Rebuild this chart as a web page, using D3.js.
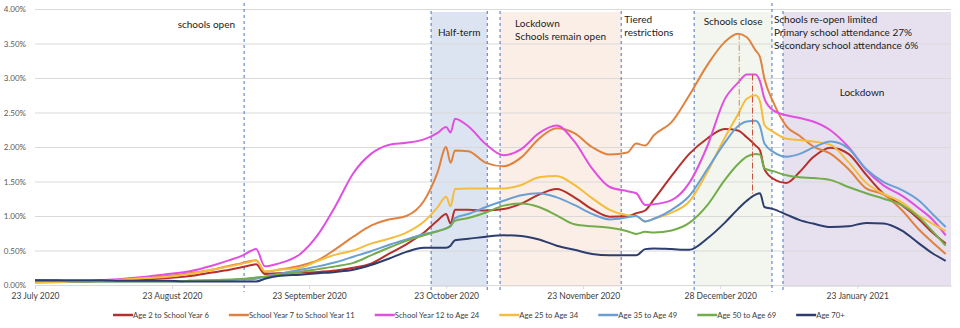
<!DOCTYPE html>
<html>
<head>
<meta charset="utf-8">
<script src="https://cdn.jsdelivr.net/npm/d3@7"></script>
<style>
  body { margin: 0; background: #fff; }
  #chart { width: 960px; height: 328px; }
</style>
</head>
<body>
<div id="chart"></div>
<script>
// Category positions (day index from 23 July 2020) where the values were read
const dayIdx = [0, 5, 10, 15, 20, 25, 30, 35, 40, 44,
  47, 49, 50, 52, 55, 60, 64, 68, 72, 76,
  80, 84, 88, 91, 93, 94, 95, 98, 102, 106,
  110, 114, 118, 122, 126, 130, 134, 136, 138, 140,
  144, 148, 152, 156, 159, 161, 163, 164, 165, 167,
  170, 173, 176, 180, 184, 188, 192, 196, 200, 203, 206];

const tickIdx = [0, 31, 62, 93, 124, 155, 186];
const tickLabels = ["23 July 2020", "23 August 2020", "23 September 2020", "23 October 2020",
  "23 November 2020", "28 December 2020", "23 January 2021"];

const seriesNames = ["Age 2 to School Year 6", "School Year 7 to School Year 11", "School Year 12 to Age 24",
  "Age 25 to Age 34", "Age 35 to Age 49", "Age 50 to Age 69", "Age 70+"];
const seriesColors = ["#b5302c", "#e0823f", "#e04fe0", "#f5bd3c", "#6a9fd6", "#72ad4a", "#2c3d6e"];

// Values in percent
const age2toY6 = [0.07, 0.06, 0.05, 0.06, 0.07, 0.08, 0.10, 0.13, 0.18, 0.22,
  0.26, 0.29, 0.30, 0.16, 0.17, 0.18, 0.19, 0.21, 0.25, 0.31,
  0.45, 0.59, 0.76, 0.93, 1.03, 0.89, 1.09, 1.09, 1.08, 1.10,
  1.18, 1.31, 1.39, 1.27, 1.10, 0.99, 1.00, 1.04, 1.08, 1.24,
  1.58, 1.90, 2.12, 2.26, 2.24, 2.14, 2.02, 1.95, 1.68, 1.54,
  1.48, 1.64, 1.85, 1.99, 1.90, 1.60, 1.32, 1.16, 0.95, 0.76, 0.60];
const year7to11 = [0.05, 0.05, 0.05, 0.06, 0.08, 0.10, 0.13, 0.17, 0.22, 0.28,
  0.32, 0.35, 0.36, 0.19, 0.22, 0.28, 0.36, 0.52, 0.70, 0.86,
  0.95, 1.00, 1.22, 1.62, 2.00, 1.77, 1.95, 1.94, 1.77, 1.72,
  1.85, 2.12, 2.27, 2.20, 2.00, 1.89, 1.92, 2.05, 2.02, 2.17,
  2.36, 2.75, 3.18, 3.52, 3.64, 3.59, 3.40, 3.30, 2.99, 2.65,
  2.30, 2.16, 2.01, 1.90, 1.68, 1.40, 1.31, 1.09, 0.80, 0.62, 0.45];
const year12to24 = [0.06, 0.06, 0.05, 0.07, 0.09, 0.12, 0.16, 0.20, 0.28, 0.36,
  0.43, 0.50, 0.52, 0.27, 0.31, 0.45, 0.73, 1.15, 1.62, 1.90,
  2.03, 2.06, 2.11, 2.20, 2.29, 2.21, 2.41, 2.30, 2.04, 1.88,
  1.97, 2.20, 2.31, 2.08, 1.69, 1.42, 1.36, 1.33, 1.16, 1.17,
  1.23, 1.48, 2.00, 2.69, 2.93, 3.05, 3.05, 2.95, 2.70, 2.53,
  2.46, 2.42, 2.37, 2.24, 2.00, 1.67, 1.44, 1.30, 1.11, 0.95, 0.72];
const age25to34 = [0.03, 0.04, 0.05, 0.06, 0.08, 0.10, 0.12, 0.16, 0.22, 0.27,
  0.31, 0.34, 0.36, 0.20, 0.22, 0.25, 0.35, 0.44, 0.50, 0.60,
  0.67, 0.76, 0.92, 1.12, 1.28, 1.14, 1.39, 1.40, 1.40, 1.40,
  1.45, 1.56, 1.58, 1.45, 1.26, 1.09, 1.01, 1.00, 0.92, 0.96,
  1.05, 1.21, 1.63, 2.13, 2.47, 2.70, 2.75, 2.66, 2.32, 2.22,
  2.12, 2.10, 2.08, 2.03, 1.78, 1.48, 1.32, 1.20, 1.00, 0.89, 0.78];
const age35to49 = [0.06, 0.06, 0.05, 0.05, 0.05, 0.05, 0.05, 0.06, 0.07, 0.07,
  0.08, 0.08, 0.09, 0.12, 0.16, 0.22, 0.27, 0.33, 0.41, 0.49,
  0.58, 0.66, 0.74, 0.78, 0.82, 0.85, 0.97, 1.03, 1.13, 1.22,
  1.30, 1.33, 1.27, 1.16, 1.03, 0.95, 0.98, 1.00, 0.92, 0.96,
  1.09, 1.29, 1.67, 2.06, 2.30, 2.37, 2.38, 2.30, 2.05, 1.93,
  1.86, 1.90, 1.99, 2.08, 1.98, 1.68, 1.49, 1.38, 1.22, 1.03, 0.84];
const age50to69 = [0.06, 0.06, 0.05, 0.05, 0.05, 0.05, 0.05, 0.06, 0.07, 0.08,
  0.09, 0.10, 0.11, 0.12, 0.15, 0.19, 0.23, 0.27, 0.32, 0.43,
  0.54, 0.64, 0.72, 0.78, 0.82, 0.86, 0.93, 0.97, 1.05, 1.15,
  1.18, 1.13, 1.01, 0.88, 0.85, 0.83, 0.78, 0.74, 0.77, 0.76,
  0.79, 0.90, 1.15, 1.52, 1.75, 1.86, 1.90, 1.89, 1.69, 1.65,
  1.59, 1.56, 1.55, 1.52, 1.42, 1.33, 1.25, 1.16, 0.98, 0.78, 0.57];
const age70plus = [0.07, 0.07, 0.07, 0.07, 0.06, 0.06, 0.06, 0.05, 0.05, 0.05,
  0.05, 0.05, 0.05, 0.09, 0.13, 0.15, 0.17, 0.19, 0.22, 0.29,
  0.38, 0.48, 0.54, 0.54, 0.54, 0.57, 0.65, 0.67, 0.70, 0.72,
  0.71, 0.66, 0.57, 0.51, 0.45, 0.43, 0.43, 0.43, 0.52, 0.53,
  0.52, 0.51, 0.67, 0.90, 1.10, 1.22, 1.31, 1.33, 1.13, 1.10,
  1.02, 0.94, 0.89, 0.84, 0.85, 0.90, 0.89, 0.79, 0.60, 0.46, 0.35];

const allSeries = [age2toY6, year7to11, year12to24, age25to34, age35to49, age50to69, age70plus];

// Events (day index) : dashed blue lines and shaded periods
const eventLines = [47.3, 89.6, 102.3, 105.2, 132.6, 149.1, 166.7, 169.2];
const bandStart = [89.6, 105.2, 149.1, 169.2];
const bandEnd = [102.3, 132.6, 166.7, 207.2];
const bandColors = ["#dde4f1", "#fbeee6", "#f3f6ee", "#e7e0ef"];

const font = "Lato, 'Open Sans', sans-serif";
const width = 960, height = 328;
const plotLeft = 35, plotRight = 951, plotTop = 9, plotBottom = 285;

let svg = d3.select("#chart")
  .append("svg")
  .attr("width", width)
  .attr("height", height)
  .attr("font-family", font);

// Scales : categories on a linear index, values in percent
let x = d3.scaleLinear().domain([0, 207.2]).range([plotLeft, plotRight]);
let y = d3.scaleLinear().domain([0, 4]).range([plotBottom, plotTop]);

// Shaded periods
svg.append("g")
  .selectAll("rect")
  .data(bandStart)
  .enter()
  .append("rect")
  .attr("x", function(d) { return x(d); })
  .attr("y", 12)
  .attr("width", function(d, i) { return x(bandEnd[i]) - x(d); })
  .attr("height", plotBottom + 2 - 12)
  .attr("fill", function(d, i) { return bandColors[i]; });

// Gridlines and y labels
let yAxis = d3.axisLeft(y)
  .tickValues(d3.range(0, 4.01, 0.5))
  .tickSize(-(plotRight - plotLeft))
  .tickFormat(function(d) { return d.toFixed(2) + "%"; });

svg.append("g")
  .attr("transform", "translate(" + plotLeft + ",0)")
  .call(yAxis)
  .call(function(g) {
    g.select(".domain").remove();
    g.selectAll(".tick line").attr("stroke", "#d9d9d9").attr("stroke-width", 1);
    g.selectAll(".tick text")
      .attr("x", -9)
      .attr("fill", "#595959")
      .attr("font-size", 8)
      .attr("font-family", font);
  });

// x axis
let xAxis = d3.axisBottom(x)
  .tickValues(tickIdx)
  .tickSize(4)
  .tickSizeOuter(0)
  .tickFormat(function(d, i) { return tickLabels[i]; });

svg.append("g")
  .attr("transform", "translate(0," + plotBottom + ")")
  .call(xAxis)
  .call(function(g) {
    g.select(".domain").attr("stroke", "#d9d9d9");
    g.selectAll(".tick line").attr("stroke", "#d9d9d9");
    g.selectAll(".tick text")
      .attr("y", 8)
      .attr("fill", "#404040")
      .attr("font-size", 8.5)
      .attr("font-family", font);
  });

// Dashed event lines
svg.append("g")
  .selectAll("line")
  .data(eventLines)
  .enter()
  .append("line")
  .attr("x1", function(d) { return x(d); })
  .attr("x2", function(d) { return x(d); })
  .attr("y1", function(d, i) { return i == 0 || i == 6 ? 3 : 11; })
  .attr("y2", 292)
  .attr("stroke", "#4a72c0")
  .attr("stroke-width", 1)
  .attr("stroke-dasharray", "3,3");

// Series lines
let line = d3.line()
  .x(function(d, i) { return x(dayIdx[i]); })
  .y(function(d) { return y(d); })
  .curve(d3.curveMonotoneX);

svg.append("g")
  .selectAll("path")
  .data(allSeries)
  .enter()
  .append("path")
  .attr("d", line)
  .attr("fill", "none")
  .attr("stroke", function(d, i) { return seriesColors[i]; })
  .attr("stroke-width", 2)
  .attr("stroke-linejoin", "round");

// Dash-dot markers at the December peaks
let peakO = dayIdx.indexOf(159), peakM = dayIdx.indexOf(163);
svg.append("line")
  .attr("x1", x(159.3)).attr("x2", x(159.3))
  .attr("y1", y(year7to11[peakO])).attr("y2", y(age2toY6[peakO]))
  .attr("stroke", "#d98a52").attr("stroke-width", 1)
  .attr("stroke-dasharray", "6,2,1,2");
svg.append("line")
  .attr("x1", x(162.3)).attr("x2", x(162.3))
  .attr("y1", y(year12to24[peakM])).attr("y2", y(age70plus[peakM]))
  .attr("stroke", "#c8503c").attr("stroke-width", 1)
  .attr("stroke-dasharray", "6,2,1,2");

// Annotations
let notes = svg.append("g")
  .attr("font-size", 10)
  .attr("fill", "#1a1a1a");

function note(tx, ty, txt, anchor) {
  notes.append("text")
    .attr("x", tx)
    .attr("y", ty)
    .attr("text-anchor", anchor || "start")
    .text(txt);
}

note(x(eventLines[0]) - 9, 28, "schools open", "end");
note((x(bandStart[0]) + x(bandEnd[0])) / 2, 36, "Half-term", "middle");
note(x(bandStart[1]) + 15, 27, "Lockdown");
note(x(bandStart[1]) + 15, 40, "Schools remain open");
note(x(eventLines[4]) + 3, 23, "Tiered");
note(x(eventLines[4]) + 3, 36, "restrictions");
note((x(bandStart[2]) + x(bandEnd[2])) / 2, 25, "Schools close", "middle");
note(x(eventLines[6]) + 2, 23, "Schools re-open limited");
note(x(eventLines[6]) + 2, 36, "Primary school attendance 27%");
note(x(eventLines[6]) + 2, 49, "Secondary school attendance 6%");
note(862, 96, "Lockdown", "middle");

// Legend : a line sample then the name, items laid out one after another
let legend = svg.append("g")
  .attr("transform", "translate(113,315)");
let lx = 0;
seriesNames.forEach(function(name, i) {
  let item = legend.append("g").attr("transform", "translate(" + lx + ",0)");
  item.append("line")
    .attr("x1", 0).attr("x2", 20)
    .attr("y1", 0).attr("y2", 0)
    .attr("stroke", seriesColors[i])
    .attr("stroke-width", 2.5);
  let t = item.append("text")
    .attr("x", 20)
    .attr("y", 3)
    .attr("font-size", 7.7)
    .attr("fill", "#404040")
    .text(name);
  lx += 20 + t.node().getComputedTextLength() + 20;
});
</script>
</body>
</html>
